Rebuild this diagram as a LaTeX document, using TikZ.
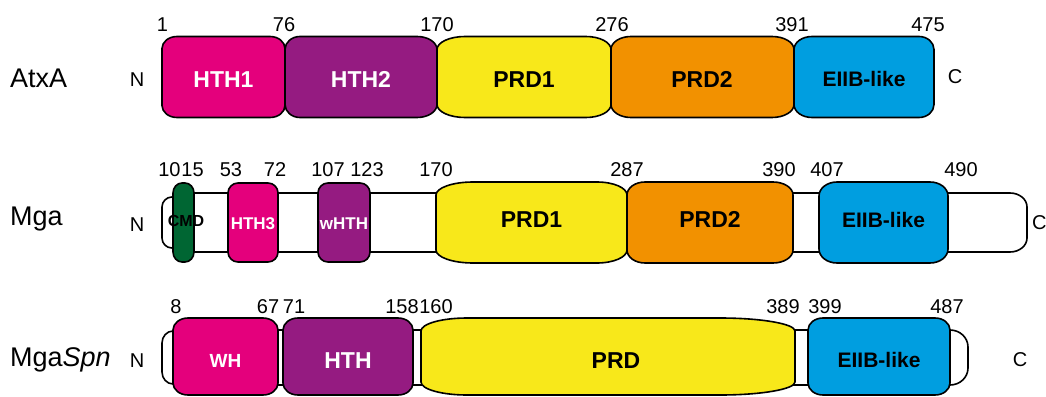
\documentclass[tikz,border=0pt]{standalone}
\usepackage{fontspec}
\setmainfont{Liberation Sans}
\definecolor{cmag}{HTML}{E4007C}
\definecolor{cpur}{HTML}{951B81}
\definecolor{cyel}{HTML}{F8E81A}
\definecolor{cora}{HTML}{F29100}
\definecolor{cblu}{HTML}{009EE0}
\definecolor{cgrn}{HTML}{006633}
\newcommand\dom[8]{%
\filldraw[domline, fill=#1] (#2+#6,#4) -- (#3-#7,#4)
 .. controls (#3-0.448*#7,#4) and (#3,#4+0.448*#8) .. (#3,#4+#8)
 -- (#3,#5-#8)
 .. controls (#3,#5-0.448*#8) and (#3-0.448*#7,#5) .. (#3-#7,#5)
 -- (#2+#6,#5)
 .. controls (#2+0.448*#6,#5) and (#2,#5-0.448*#8) .. (#2,#5-#8)
 -- (#2,#4+#8)
 .. controls (#2,#4+0.448*#8) and (#2+0.448*#6,#4) .. (#2+#6,#4) -- cycle;}
\tikzset{
 domline/.style={draw=black, line width=1.6pt, line join=round},
 protname/.style={anchor=base west, inner sep=0pt, font=\fontsize{27}{30}\selectfont},
 num/.style={anchor=base, inner sep=0pt, font=\fontsize{20}{24}\selectfont},
 term/.style={anchor=base, inner sep=0pt, font=\fontsize{20}{24}\selectfont},
 wlab/.style={anchor=base, inner sep=0pt, text=white, font=\bfseries\fontsize{23}{26}\selectfont},
 blab/.style={anchor=base, inner sep=0pt, text=black, font=\bfseries\fontsize{23}{26}\selectfont},
 elab/.style={anchor=base, inner sep=0pt, text=black, font=\bfseries\fontsize{21}{24}\selectfont},
}
\begin{document}
\begin{tikzpicture}[x=1pt, y=-1pt]
\useasboundingbox (0,0) rectangle (1046,396);
% ---------- Row 1: AtxA ----------
\node[protname] (n1) at (10,87) {AtxA};
\node[term] (N1) at (137,86) {N};
\node[term] (C1) at (955,84) {C};
\dom{cmag}{162}{285}{36.5}{117.5}{15}{15}{12}
\dom{cpur}{285}{437}{36.5}{117.5}{15}{20}{13}
\dom{cyel}{437}{611}{36.5}{117.5}{28}{25}{13}
\dom{cora}{611}{794}{36.5}{117.5}{20}{22}{13}
\dom{cblu}{794}{934}{36.5}{117.5}{18}{15}{13}
\node[wlab] (a1) at (223.5,87) {HTH1};
\node[wlab] (a2) at (361,87) {HTH2};
\node[blab] (a3) at (524,87) {PRD1};
\node[blab] (a4) at (702,87) {PRD2};
\node[elab] (a5) at (864,86) {EIIB-like};
\node[num] (r1a) at (162.5,31.5) {1};
\node[num] (r1b) at (284,31.5) {76};
\node[num] (r1c) at (437,31.5) {170};
\node[num] (r1d) at (612,31.5) {276};
\node[num] (r1e) at (792,31.5) {391};
\node[num] (r1f) at (928,31.5) {475};
% ---------- Row 2: Mga ----------
\node[protname] (n2) at (10,225) {Mga};
\node[term] (N2) at (137,231) {N};
\node[term, anchor=base west] (C2) at (1032,229) {C};
\dom{white}{162}{185}{197}{248}{10}{0.01}{10}
\dom{white}{180}{1027}{193}{252}{0.01}{17}{14}
\dom{cgrn}{173}{194}{183}{262}{9}{9}{10}
\dom{cmag}{228}{278}{183}{262}{10}{10}{10}
\dom{cpur}{318}{370}{183}{262}{10}{10}{10}
\dom{cyel}{436}{627}{182}{263}{37}{30}{13}
\dom{cora}{627}{793}{182}{263}{18}{20}{13}
\dom{cblu}{819}{948}{182}{263}{18}{18}{14}
\node[blab, font=\bfseries\fontsize{16}{18}\selectfont] (b0) at (186,226) {CMD};
\node[wlab, font=\bfseries\fontsize{17}{20}\selectfont] (b1) at (253,229) {HTH3};
\node[wlab, font=\bfseries\fontsize{17}{20}\selectfont] (b2) at (344,229) {wHTH};
\node[blab] (b3) at (531.5,227) {PRD1};
\node[blab] (b4) at (710,227) {PRD2};
\node[elab] (b5) at (883.5,227) {EIIB-like};
\node[num] (r2a) at (169.5,176) {10};
\node[num] (r2b) at (192.5,176) {15};
\node[num] (r2c) at (231,176) {53};
\node[num] (r2d) at (275,176) {72};
\node[num] (r2e) at (328,176) {107};
\node[num] (r2f) at (367,176) {123};
\node[num] (r2g) at (436,176) {170};
\node[num] (r2h) at (627,176) {287};
\node[num] (r2i) at (779,176) {390};
\node[num] (r2j) at (827,176) {407};
\node[num] (r2k) at (961,176) {490};
% ---------- Row 3: MgaSpn ----------
\node[protname] (n3) at (10,366) {Mga\textit{Spn}};
\node[term] (N3) at (137,367) {N};
\node[term] (C3) at (1020,366) {C};
\dom{white}{162}{185}{331}{384}{11}{0.01}{12}
\dom{white}{180}{968}{330}{385}{0.01}{18}{17}
\dom{cmag}{173}{278}{318}{395}{15}{15}{12}
\dom{cpur}{283}{413}{318}{395}{15}{15}{12}
\dom{cyel}{421}{795}{318}{395}{46}{75}{13}
\dom{cblu}{808}{950}{318}{395}{15}{15}{12}
\node[wlab, font=\bfseries\fontsize{19}{22}\selectfont] (c1) at (225.5,367) {WH};
\node[wlab] (c2) at (348,368) {HTH};
\node[blab] (c3) at (616,368) {PRD};
\node[elab] (c4) at (879,367) {EIIB-like};
\node[num] (r3a) at (176,313) {8};
\node[num] (r3b) at (268,313) {67};
\node[num] (r3c) at (294,313) {71};
\node[num] (r3d) at (402,313) {158};
\node[num] (r3e) at (436,313) {160};
\node[num] (r3f) at (783,313) {389};
\node[num] (r3g) at (825,313) {399};
\node[num] (r3h) at (947,313) {487};
\end{tikzpicture}
\end{document}
